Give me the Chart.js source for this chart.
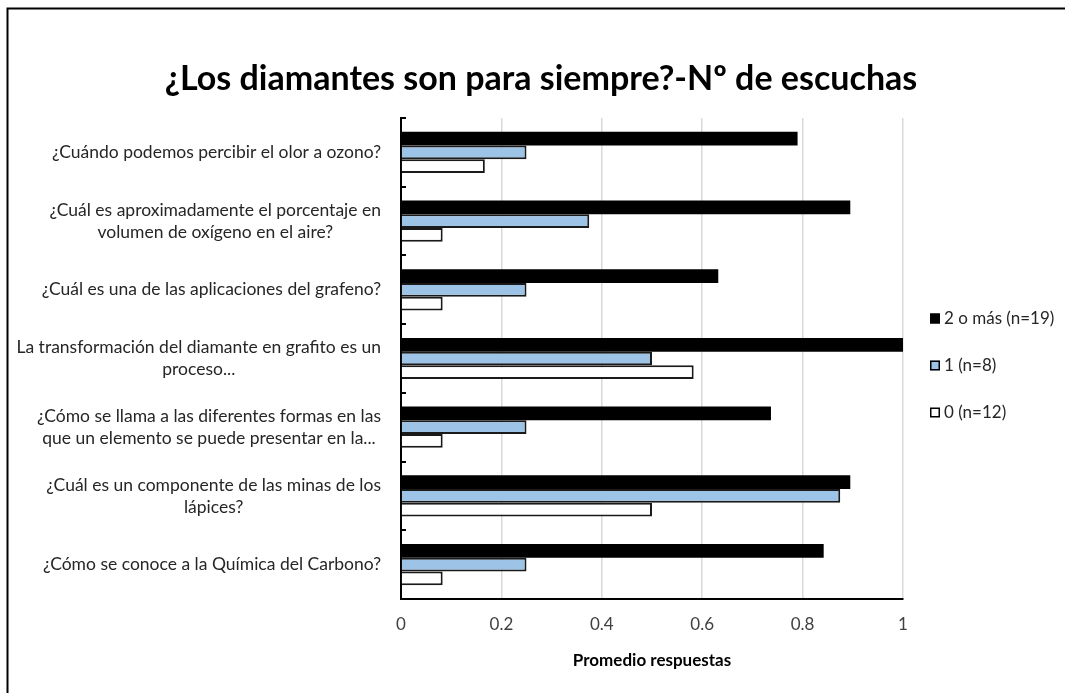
<!DOCTYPE html>
<html><head><meta charset="utf-8">
<script src="https://cdn.jsdelivr.net/npm/chart.js@4/dist/chart.umd.min.js"></script>
<style>html,body{margin:0;padding:0;background:#fff;} #wrap{position:relative;width:1065px;height:693px;}</style>
</head><body><div id="wrap"><canvas id="c" width="1065" height="693"></canvas></div>
<script>
const categories = [
  "¿Cuándo podemos percibir el olor a ozono?",
  ["¿Cuál es aproximadamente el porcentaje en", "volumen de oxígeno en el aire?"],
  "¿Cuál es una de las aplicaciones del grafeno?",
  ["La transformación del diamante en grafito es un", "proceso..."],
  ["¿Cómo se llama a las diferentes formas en las", "que un elemento se puede presentar en la..."],
  ["¿Cuál es un componente de las minas de los", "lápices?"],
  "¿Cómo se conoce a la Química del Carbono?"
];
const seriesNames = ["2 o más (n=19)", "1 (n=8)", "0 (n=12)"];
const values2oMas = [0.79, 0.895, 0.632, 1.0, 0.737, 0.895, 0.842];
const values1 = [0.25, 0.375, 0.25, 0.5, 0.25, 0.875, 0.25];
const values0 = [0.167, 0.083, 0.083, 0.583, 0.083, 0.5, 0.083];
const xTickValues = [0, 0.2, 0.4, 0.6, 0.8, 1];
const chartTitle = "¿Los diamantes son para siempre?-Nº de escuchas";
const xTitle = "Promedio respuestas";

const FONT = "Lato, 'Liberation Sans', sans-serif";
const labelColor = "#262626";

const decorPlugin = {
  id: 'decor',
  beforeDraw(chart) {
    const ctx = chart.ctx;
    ctx.save();
    ctx.fillStyle = '#fff';
    ctx.fillRect(0, 0, chart.width, chart.height);
    ctx.strokeStyle = '#000';
    ctx.lineWidth = 2;
    ctx.beginPath();
    ctx.moveTo(7.5, chart.height);
    ctx.lineTo(7.5, 8.5);
    ctx.lineTo(chart.width, 8.5);
    ctx.stroke();
    ctx.restore();
  },
  afterDraw(chart) {
    const ctx = chart.ctx;
    const area = chart.chartArea;
    const ys = chart.scales.y;
    ctx.save();
    // title
    ctx.font = "bold 34px " + FONT;
    ctx.fillStyle = '#000';
    ctx.textAlign = 'center';
    ctx.textBaseline = 'alphabetic';
    ctx.fillText(chartTitle, 541, 90);
    // category boundary ticks (inside)
    ctx.strokeStyle = '#000';
    ctx.lineWidth = 2;
    for (let i = 0; i <= categories.length; i++) {
      const py = Math.round(ys.getPixelForValue(i - 0.5));
      ctx.beginPath();
      ctx.moveTo(area.left, py);
      ctx.lineTo(area.left + 5, py);
      ctx.stroke();
    }
    // y labels
    ctx.font = "17.5px " + FONT;
    ctx.fillStyle = labelColor;
    ctx.textAlign = 'center';
    ctx.textBaseline = 'middle';
    const rightEdge = area.left - 20;
    const lineH = 22;
    chart.data.labels.forEach((lab, i) => {
      const lines = Array.isArray(lab) ? lab : [lab];
      const maxW = Math.max(...lines.map(l => ctx.measureText(l).width));
      const cx = rightEdge - maxW / 2;
      const cy = ys.getPixelForValue(i);
      lines.forEach((l, k) => {
        ctx.fillText(l, cx, cy + (k - (lines.length - 1) / 2) * lineH);
      });
    });
    // legend
    const lx = area.right + 27;
    const cyMid = (area.top + area.bottom) / 2 + 7;
    const gap = 47;
    ctx.textAlign = 'left';
    ctx.font = "17px " + FONT;
    chart.data.datasets.forEach((ds, i) => {
      const y = cyMid + (i - 1) * gap;
      ctx.fillStyle = ds.backgroundColor;
      ctx.fillRect(lx, y - 5, 10, 10);
      ctx.strokeStyle = '#000';
      ctx.lineWidth = 1.5;
      ctx.strokeRect(lx + 0.75, y - 4.25, 8.5, 8.5);
      ctx.fillStyle = labelColor;
      ctx.fillText(ds.label, lx + 14, y);
    });
    ctx.restore();
  }
};

new Chart(document.getElementById('c'), {
  type: 'bar',
  data: {
    labels: categories,
    datasets: [
      { label: seriesNames[0], data: values2oMas, backgroundColor: '#000000', borderColor: '#000000', borderWidth: 0 },
      { label: seriesNames[1], data: values1, backgroundColor: '#9dc3e6', borderColor: '#1a1a1a', borderWidth: 2 },
      { label: seriesNames[2], data: values0, backgroundColor: '#ffffff', borderColor: '#1a1a1a', borderWidth: 2 }
    ]
  },
  options: {
    indexAxis: 'y',
    responsive: false,
    animation: false,
    locale: 'en-US',
    categoryPercentage: 0.6,
    barPercentage: 1.0,
    layout: { padding: { left: 0, right: 162, top: 118, bottom: 0 } },
    plugins: {
      legend: { display: false },
      tooltip: { enabled: false },
      title: { display: false }
    },
    scales: {
      x: {
        min: 0, max: 1,
        afterFit(s) { s.height = 94; },
        afterBuildTicks(s) { s.ticks = xTickValues.map(v => ({ value: v })); },
        ticks: {
          color: '#404040', font: { family: FONT, size: 17 }, padding: 15,
          callback: (v) => String(Math.round(v * 10) / 10)
        },
        grid: { color: '#d9d9d9', lineWidth: 1.5, drawTicks: false },
        border: { color: '#000', width: 2 },
        title: { display: true, text: xTitle, color: '#000', font: { family: FONT, size: 17, weight: 'bold' }, padding: { top: 0, bottom: 22 } }
      },
      y: {
        afterFit(s) { s.width = 401; },
        ticks: { display: false },
        grid: { display: false },
        border: { color: '#000', width: 2 }
      }
    }
  },
  plugins: [decorPlugin]
});
</script>
</body></html>
